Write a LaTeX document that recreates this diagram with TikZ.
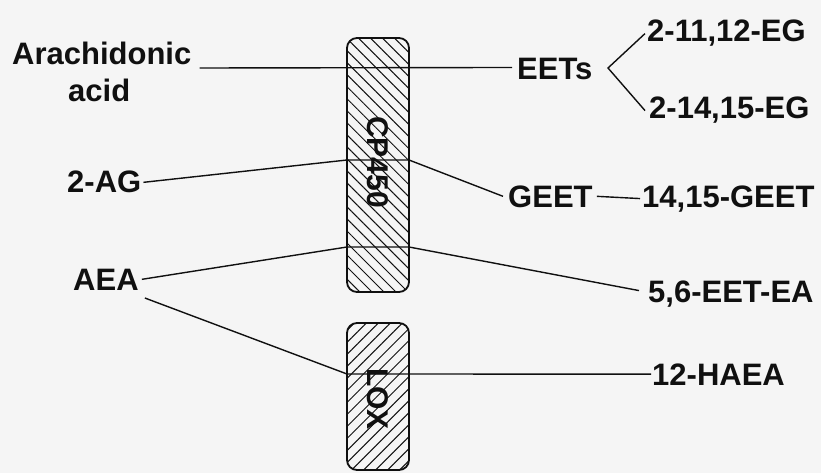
\documentclass[tikz,border=0pt]{standalone}
\usepackage{fontspec}
\setmainfont{Liberation Sans}
\usetikzlibrary{patterns.meta}
\definecolor{bg}{HTML}{F5F5F5}
\definecolor{ink}{HTML}{101010}
\begin{document}
\begin{tikzpicture}[x=1pt,y=-1pt,
  lbl/.style={anchor=base west,inner sep=0pt,text=ink,font=\fontsize{31}{37}\selectfont\bfseries},
  conn/.style={draw=ink,line width=1.4pt},
  enzyme/.style={draw=ink,line width=1.8pt,rounded corners=10pt,minimum width=62pt,inner sep=0pt},
  enztext/.style={rotate=-90,inner sep=0pt,text=ink,font=\fontsize{30}{36}\selectfont\bfseries}
]
\useasboundingbox (0,0) rectangle (821,473);
\fill[bg] (0,0) rectangle (821,473);

% labels
\node[lbl] (arach) at (12,65) {Arachidonic};
\node[lbl] (acid) at (68,102) {acid};
\node[lbl] (ag) at (67,193) {2-AG};
\node[lbl] (aea) at (73,290) {AEA};
\node[lbl] (eets) at (517,80) {EETs};
\node[lbl] (eg1) at (647,42) {2-11,12-EG};
\node[lbl] (eg2) at (649,119) {2-14,15-EG};
\node[lbl] (geet) at (508,207) {GEET};
\node[lbl] (geet2) at (642,207) {14,15-GEET};
\node[lbl] (eetea) at (648,302) {5,6-EET-EA};
\node[lbl] (haea) at (652,385) {12-HAEA};

% bend points
\coordinate (brk) at (608,68);
\coordinate (agL) at (347,160);
\coordinate (agR) at (409,160);
\coordinate (aeaL) at (347,247);
\coordinate (aeaR) at (409,247);
\coordinate (loxL) at (347,374);
\coordinate (loxR) at (409,374);

% connectors
\draw[conn] ([xshift=8pt,yshift=-3pt]arach.base east) -- ([xshift=-5pt,yshift=2pt]eets.west);
\draw[conn] ([xshift=-2pt]eg1.west) -- (brk) -- ([xshift=-4pt]eg2.west);
\draw[conn] ([xshift=2pt]ag.east) -- (agL) -- (agR) -- ([xshift=-5pt]geet.west);
\draw[conn] ([xshift=4pt]geet.east) -- ([xshift=-2pt]geet2.west);
\draw[conn] ([xshift=3pt]aea.east) -- (aeaL) -- (aeaR) -- ([xshift=-9pt,yshift=3pt]eetea.west);
\draw[conn] ([xshift=6pt,yshift=-8pt]aea.base east) -- (loxL) -- (loxR) -- ([xshift=-1pt]haea.west);

% enzymes
\node[enzyme,minimum height=254pt,
  pattern={Lines[angle=-45,distance=8.5pt,line width=1pt]},pattern color=ink] (cp) at (378,165) {};
\node[enztext] (cptext) at (378,162) {CP450};
\node[enzyme,minimum height=147pt,
  pattern={Lines[angle=45,distance=8.5pt,line width=1pt]},pattern color=ink] (lox) at (378,396.5) {};
\node[enztext] (loxtext) at (378,399) {LOX};
\end{tikzpicture}
\end{document}
